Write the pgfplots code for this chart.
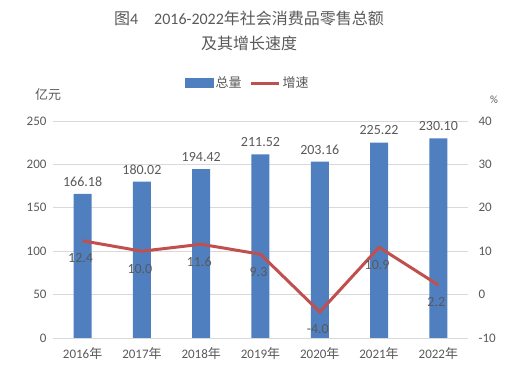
\documentclass[border=0pt]{standalone}
\usepackage{fontspec}
\setmainfont{Carlito}
\newfontfamily\cjk{Noto Sans CJK SC}
\usepackage{pgfplots}
\pgfplotsset{compat=1.18}
\definecolor{barblue}{HTML}{4F7FBF}
\definecolor{linered}{HTML}{C0504D}
\definecolor{txt}{HTML}{595959}
\definecolor{gridc}{HTML}{D9D9D9}
\begin{document}
\begin{tikzpicture}
\useasboundingbox (0pt,0pt) rectangle (520pt,375pt);
\begin{axis}[at={(53pt,37pt)}, anchor=south west, scale only axis,
  width=415pt, height=217pt,
  xmin=-0.5, xmax=6.5, ymin=0, ymax=250,
  ytick={0,50,...,250},
  xtick={0,...,6},
  xticklabels={2016{\cjk 年},2017{\cjk 年},2018{\cjk 年},2019{\cjk 年},2020{\cjk 年},2021{\cjk 年},2022{\cjk 年}},
  axis line style={draw=none}, major tick length=0pt,
  ymajorgrids, grid style={gridc, line width=0.8pt},
  /pgf/number format/assume math mode=true,
  tick label style={font=\fontsize{13}{15}\selectfont, text=txt},
  xticklabel style={yshift=-6pt},
  yticklabel style={xshift=-3pt},
  ybar, bar width=18pt,
  nodes near coords,
  every node near coord/.append style={font=\fontsize{14}{16}\selectfont, text=txt, yshift=4pt,
    /pgf/number format/.cd, fixed, fixed zerofill, precision=2, assume math mode=true},
]
\addplot[fill=barblue, draw=none] coordinates {(0,166.18) (1,180.02) (2,194.42) (3,211.52) (4,203.16) (5,225.22) (6,230.10)};
\end{axis}
\begin{axis}[at={(53pt,37pt)}, anchor=south west, scale only axis,
  width=415pt, height=217pt,
  xmin=-0.5, xmax=6.5, ymin=-10, ymax=40,
  ytick={-10,0,...,40},
  axis y line*=right, axis x line=none,
  axis line style={draw=none}, major tick length=0pt,
  /pgf/number format/assume math mode=true,
  tick label style={font=\fontsize{13}{15}\selectfont, text=txt},
  yticklabel style={xshift=7pt},
  nodes near coords,
  every node near coord/.append style={font=\fontsize{14}{16}\selectfont, text=txt, anchor=north, yshift=-8pt, xshift=-2pt,
    /pgf/number format/.cd, fixed, fixed zerofill, precision=1, assume math mode=true},
  legend style={at={(0.47,1.175)}, anchor=center, draw=none, fill=none,
    legend columns=2, font=\fontsize{13}{15}\selectfont\cjk, text=txt,
    /tikz/every even column/.append style={column sep=6pt}},
]
\addlegendimage{legend image code/.code={\fill[barblue] (0pt,-4.5pt) rectangle (28pt,4.5pt);}}
\addlegendentry{总量}
\addplot[linered, line width=3pt, mark=none,
  legend image code/.code={\draw[linered, line width=3pt] (0pt,0pt) -- (28pt,0pt);}]
  coordinates {(0,12.4) (1,10.0) (2,11.6) (3,9.3) (4,-4.0) (5,10.9) (6,2.2)};
\addlegendentry{增速}
\end{axis}
\node[text=txt, font=\fontsize{16}{18}\selectfont] at (249pt,357pt) {{\cjk 图}4\hspace{1em}2016-2022{\cjk 年社会消费品零售总额}};
\node[text=txt, font=\fontsize{16}{18}\selectfont\cjk] at (249pt,332pt) {及其增长速度};
\node[text=txt, font=\fontsize{13}{15}\selectfont\cjk] at (48pt,280pt) {亿元};
\node[text=txt, font=\fontsize{11}{13}\selectfont] at (494pt,275pt) {\%};
\end{tikzpicture}
\end{document}
